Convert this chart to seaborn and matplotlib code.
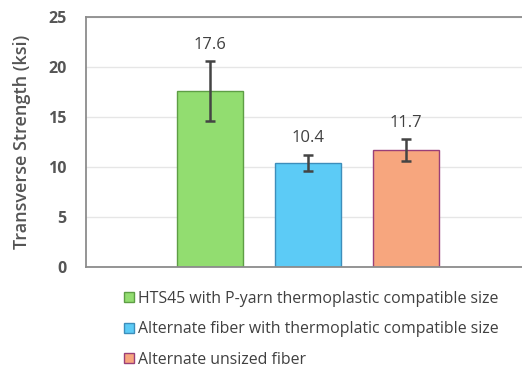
import matplotlib
matplotlib.use("Agg")
import matplotlib.pyplot as plt
from matplotlib.patches import Patch
import seaborn as sns
import pandas as pd

categories = ["HTS45 with P-yarn thermoplastic compatible size",
              "Alternate fiber with thermoplatic compatible size",
              "Alternate unsized fiber"]
values = [17.6, 10.4, 11.7]
errors = [3.0, 0.85, 1.05]
value_labels = ["17.6", "10.4", "11.7"]
y_ticks = [0, 5, 10, 15, 20, 25]

face_colors = ["#92DD70", "#5CCBF6", "#F7A67E"]
edge_colors = ["#5E9E45", "#3D8EBB", "#9A3F78"]

sns.set_theme(style="white")
plt.rcParams['font.family'] = ['Open Sans', 'DejaVu Sans']

df = pd.DataFrame({"cat": categories, "val": values})

fig = plt.figure(figsize=(5.22, 3.69), dpi=100)
ax = fig.add_axes([86/522, 102/369, 1 - 86/522, 250/369])

sns.barplot(data=df, x="cat", y="val", hue="cat", palette=face_colors,
            width=0.67, legend=False, ax=ax, errorbar=None, saturation=1)

for i, p in enumerate(ax.patches):
    p.set_edgecolor(edge_colors[i])
    p.set_linewidth(1.0)

ax.errorbar(range(len(values)), values, yerr=errors, fmt="none",
            ecolor="#444444", elinewidth=1.8, capsize=3.5, capthick=1.8, zorder=5)

for i, (v, e, t) in enumerate(zip(values, errors, value_labels)):
    ax.text(i, v + e + 0.8, t, ha="center", va="bottom", fontsize=12,
            color="#404040")

ax.set_xlim(-1.265, 3.18)
ax.set_ylim(0, 25)
ax.set_yticks(y_ticks)
ax.set_yticklabels([str(t) for t in y_ticks], fontsize=11.5, fontweight="bold",
                   color="#555555")
ax.set_xticks([])
ax.set_xlabel("")
ax.set_ylabel("Transverse Strength (ksi)", fontsize=13, fontweight="semibold",
              color="#555555", labelpad=12)
ax.tick_params(axis="y", length=0, pad=14)

ax.grid(axis="y", color="#e6e6e6", linewidth=1)
ax.set_axisbelow(True)
for s in ["left", "top", "bottom"]:
    ax.spines[s].set_color("#8c8c8c")
    ax.spines[s].set_linewidth(1.3)
ax.spines["right"].set_visible(False)

handles = [Patch(facecolor=f, edgecolor=e, linewidth=1) for f, e in zip(face_colors, edge_colors)]
fig.legend(handles, categories, loc="upper left", bbox_to_anchor=(124/522, 1 - 291/369),
           frameon=False, fontsize=11.4, handlelength=0.6, handleheight=0.6,
           handletextpad=0.3, labelspacing=0.9, labelcolor="#404040",
           borderaxespad=0, borderpad=0)

fig.savefig("out.png", dpi=100)
